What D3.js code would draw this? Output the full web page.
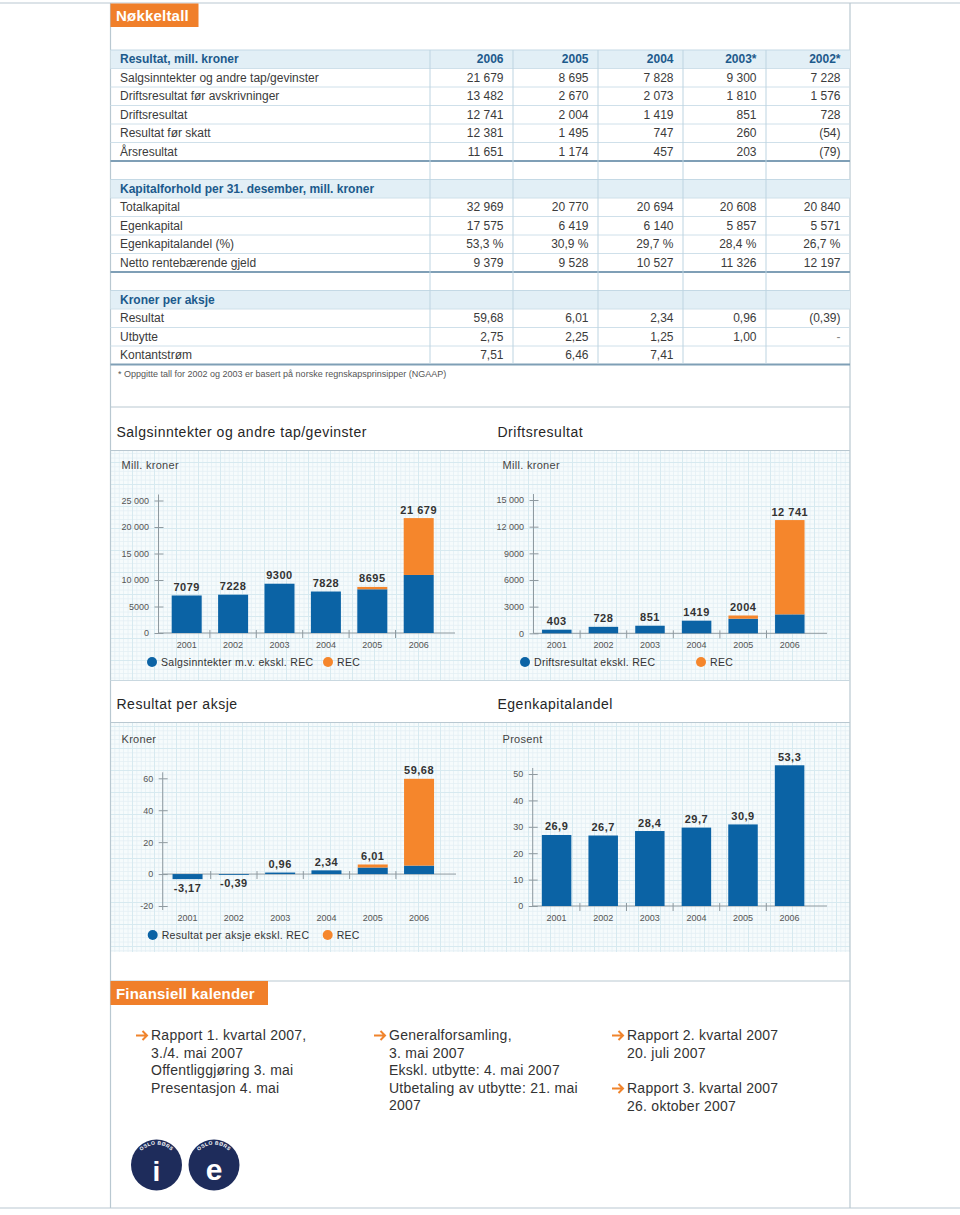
<!DOCTYPE html>
<html><head><meta charset="utf-8">
<script src="https://cdn.jsdelivr.net/npm/d3@7"></script>
<style>
body{margin:0;background:#fff}
svg{display:block}
text{font-family:"Liberation Sans",Arial,Helvetica,sans-serif}
</style>
</head><body>
<svg id="c" width="960" height="1215"></svg>
<script>
// ---------------- DATA ----------------
const tableYears = ["2006","2005","2004","2003*","2002*"];
const resultLabels = ["Salgsinntekter og andre tap/gevinster","Driftsresultat før avskrivninger","Driftsresultat","Resultat før skatt","Årsresultat"];
const resultValues = [
  ["21 679","8 695","7 828","9 300","7 228"],
  ["13 482","2 670","2 073","1 810","1 576"],
  ["12 741","2 004","1 419","851","728"],
  ["12 381","1 495","747","260","(54)"],
  ["11 651","1 174","457","203","(79)"]
];
const capLabels = ["Totalkapital","Egenkapital","Egenkapitalandel (%)","Netto rentebærende gjeld"];
const capValues = [
  ["32 969","20 770","20 694","20 608","20 840"],
  ["17 575","6 419","6 140","5 857","5 571"],
  ["53,3 %","30,9 %","29,7 %","28,4 %","26,7 %"],
  ["9 379","9 528","10 527","11 326","12 197"]
];
const shareLabels = ["Resultat","Utbytte","Kontantstrøm"];
const shareValues = [
  ["59,68","6,01","2,34","0,96","(0,39)"],
  ["2,75","2,25","1,25","1,00","-"],
  ["7,51","6,46","7,41","",""]
];
const footnote = "* Oppgitte tall for 2002 og 2003 er basert på norske regnskapsprinsipper (NGAAP)";

const years = ["2001","2002","2003","2004","2005","2006"];
const salesTotal = [7079,7228,9300,7828,8695,21679];
const salesExRec = [7079,7228,9300,7828,8250,10950];
const salesTicks = [0,5000,10000,15000,20000,25000];
const opTotal = [403,728,851,1419,2004,12741];
const opExRec = [403,728,851,1419,1640,2130];
const opTicks = [0,3000,6000,9000,12000,15000];
const epsTotal = [-3.17,-0.39,0.96,2.34,6.01,59.68];
const epsExRec = [-3.17,-0.39,0.96,2.34,4.1,5.3];
const epsTicks = [-20,0,20,40,60];
const equityShare = [26.9,26.7,28.4,29.7,30.9,53.3];
const equityTicks = [0,10,20,30,40,50];

const calCol1 = ["Rapport 1. kvartal 2007,","3./4. mai 2007","Offentliggjøring 3. mai","Presentasjon 4. mai"];
const calCol2 = ["Generalforsamling,","3. mai 2007","Ekskl. utbytte: 4. mai 2007","Utbetaling av utbytte: 21. mai","2007"];
const calCol3a = ["Rapport 2. kvartal 2007","20. juli 2007"];
const calCol3b = ["Rapport 3. kvartal 2007","26. oktober 2007"];

// ---------------- STYLE ----------------
const BLUE = "#0b63a5", ORANGE = "#f5862c";
const FRAME = "#b9c8d1";
const TXT = "#3b3b3b";
const HEADBLUE = "#1c5a8c";

const svg = d3.select("#c");
const defs = svg.append("defs");

// graph paper pattern
const pMinor = defs.append("pattern").attr("id","gMinor").attr("width",4.4).attr("height",4.4).attr("patternUnits","userSpaceOnUse");
pMinor.append("rect").attr("width",4.4).attr("height",4.4).attr("fill","#f6fbfc");
pMinor.append("path").attr("d","M0 0.4H4.4M0.4 0V4.4").attr("stroke","#e2f0f4").attr("stroke-width",0.8).attr("fill","none");
const pMajor = defs.append("pattern").attr("id","gMajor").attr("width",22).attr("height",22).attr("patternUnits","userSpaceOnUse");
pMajor.append("path").attr("d","M0 0.5H22M0.5 0V22").attr("stroke","#d6e9ef").attr("stroke-width",0.9).attr("fill","none");

function hline(x1,x2,y,c,w){svg.append("line").attr("x1",x1).attr("x2",x2).attr("y1",y).attr("y2",y).attr("stroke",c).attr("stroke-width",w||1);}
function vline(x,y1,y2,c,w){svg.append("line").attr("x1",x).attr("x2",x).attr("y1",y1).attr("y2",y2).attr("stroke",c).attr("stroke-width",w||1);}

// ---------------- GRID BACKGROUNDS ----------------
[[450.5,680],[722.5,952]].forEach(([a,b])=>{
  svg.append("rect").attr("x",110.5).attr("y",a).attr("width",739.5).attr("height",b-a).attr("fill","url(#gMinor)");
  svg.append("rect").attr("x",110.5).attr("y",a).attr("width",739.5).attr("height",b-a).attr("fill","url(#gMajor)");
});

// ---------------- FRAME ----------------
hline(0,960,3,FRAME,1.2);
hline(0,960,1208,FRAME,1.2);
vline(110.5,3,1208,FRAME,1.2);
vline(850,3,1208,FRAME,1.2);
hline(110.5,850,407,FRAME);
hline(110.5,850,450.5,FRAME);
hline(110.5,850,680.5,"#c9d8e0");
hline(110.5,850,722.5,FRAME);
hline(110.5,850,981,FRAME);

// section header boxes
function sectionBox(x,y,w,h,label,fs){
  svg.append("rect").attr("x",x).attr("y",y).attr("width",w).attr("height",h).attr("fill","#f07f2a");
  svg.append("text").attr("x",x+5.5).attr("y",y+h/2+5.5).attr("fill","#fff").attr("font-weight","bold")
    .attr("font-size",fs).attr("letter-spacing",0.2).text(label);
}
sectionBox(110.5,3.5,88,23.5,"Nøkkeltall",15);
sectionBox(110.5,981,157.5,24,"Finansiell kalender",15);

// ---------------- TABLE ----------------
const colEdges = [430,513,598,683,766,850];
const tL = 110.5, tR = 850, rh = 18.5;
const blocks = [
  {title:"Resultat, mill. kroner", header:tableYears, labels:resultLabels, values:resultValues},
  {title:"Kapitalforhold per 31. desember, mill. kroner", header:null, labels:capLabels, values:capValues},
  {title:"Kroner per aksje", header:null, labels:shareLabels, values:shareValues}
];
let ty = 50;
const tableTop = ty;
blocks.forEach((b,bi)=>{
  if(bi>0){ ty += rh; } // empty row
  svg.append("rect").attr("x",tL).attr("y",ty).attr("width",tR-tL).attr("height",rh).attr("fill","#e2eff6");
  hline(tL,tR,ty,"#c4d9e5");
  svg.append("text").attr("x",120).attr("y",ty+rh/2+4.2).attr("fill",HEADBLUE).attr("font-weight","bold")
    .attr("font-size",12).text(b.title);
  if(b.header){
    b.header.forEach((h,i)=>{
      svg.append("text").attr("x",colEdges[i+1]-9.5).attr("y",ty+rh/2+4.2).attr("text-anchor","end")
        .attr("fill",HEADBLUE).attr("font-weight","bold").attr("font-size",12).text(h);
    });
  }
  ty += rh;
  b.labels.forEach((lab,ri)=>{
    hline(tL,tR,ty,"#cfe0ea");
    svg.append("text").attr("x",120).attr("y",ty+rh/2+4.2).attr("fill",TXT).attr("font-size",12).text(lab);
    b.values[ri].forEach((v,i)=>{
      svg.append("text").attr("x",colEdges[i+1]-9.5).attr("y",ty+rh/2+4.2).attr("text-anchor","end")
        .attr("fill",v==="-"?"#888":TXT).attr("font-size",12).text(v);
    });
    ty += rh;
  });
  hline(tL,tR,ty,"#7f9fb6",2);
});
colEdges.slice(0,5).forEach(x=>vline(x,tableTop,ty-1,"#bdd4e1"));
svg.append("text").attr("x",118).attr("y",ty+12.5).attr("fill","#555").attr("font-size",9).text(footnote);

// ---------------- CHARTS ----------------
const fmtInt = v => v>=10000 ? d3.format(",")(v).replace(/,/g," ") : String(v);
const fmtDec2 = v => d3.format(".2f")(v).replace(".",",").replace("\u2212","-");
const fmtDec1 = v => d3.format(".1f")(v).replace(".",",");

function chart(o){
  const g = svg.append("g");
  g.append("text").attr("x",o.titleX).attr("y",o.titleY).attr("fill","#262626").attr("font-size",14)
    .attr("letter-spacing",0.5).text(o.title);
  g.append("text").attr("x",o.titleX+5).attr("y",o.unitY).attr("fill","#444").attr("font-size",11)
    .attr("letter-spacing",0.3).text(o.unit);

  const x = d3.scaleBand().domain(years).range([o.bx0, o.bx0+years.length*o.step])
    .paddingInner(1-o.barW/o.step).paddingOuter((1-o.barW/o.step)/2);
  const y = d3.scaleLinear().domain(o.domain).range(o.yRange);

  const ya = g.append("g").attr("transform",`translate(${o.ax},0)`)
    .call(d3.axisLeft(y).tickValues(o.ticks).tickFormat(o.tickFmt).tickSizeInner(4).tickSizeOuter(0).tickPadding(5.5));
  ya.select(".domain").remove();
  ya.selectAll(".tick line").attr("x1",5).attr("stroke","#8f9aa0");
  ya.selectAll(".tick text").attr("fill","#555").attr("font-size",9)
    .style("font-family",'"Liberation Sans",Arial,sans-serif');
  const yTopTick = y(d3.max(o.ticks)), yBotTick = y(d3.min(o.ticks));
  vline(o.ax, yTopTick-6, yBotTick + (o.domain[0]<0?4:0), "#8f9aa0");

  const y0 = y(0);
  g.append("line").attr("x1",o.ax).attr("x2",o.axEnd).attr("y1",y0).attr("y2",y0).attr("stroke","#8f9aa0");
  years.slice(1).forEach((d,i)=>{
    const sx = o.bx0 + (i+1)*o.step;
    g.append("line").attr("x1",sx).attr("x2",sx).attr("y1",y0-3).attr("y2",y0+5).attr("stroke","#8f9aa0");
  });
  g.selectAll(".xl").data(years).join("text")
    .attr("x",d=>x(d)+x.bandwidth()/2).attr("y",o.yRange[0]+15).attr("text-anchor","middle")
    .attr("fill","#555").attr("font-size",9).text(d=>d);

  const rows = years.map((d,i)=>({year:d, base:o.base[i], total:o.total[i]}));
  g.selectAll(".bb").data(rows).join("rect")
    .attr("x",d=>x(d.year)).attr("width",x.bandwidth())
    .attr("y",d=>Math.min(y(d.base),y0)).attr("height",d=>Math.max(0.8,Math.abs(y(d.base)-y0)))
    .attr("fill",BLUE);
  g.selectAll(".rb").data(rows.filter(d=>d.total>d.base)).join("rect")
    .attr("x",d=>x(d.year)).attr("width",x.bandwidth())
    .attr("y",d=>y(d.total)).attr("height",d=>y(d.base)-y(d.total))
    .attr("fill",ORANGE);
  g.selectAll(".vl").data(rows).join("text")
    .attr("x",d=>x(d.year)+x.bandwidth()/2)
    .attr("y",d=>d.total>=0 ? y(d.total)-4.5 : y(d.total)+12.5)
    .attr("text-anchor","middle").attr("fill","#333").attr("font-weight","bold")
    .attr("font-size",11).attr("letter-spacing",0.5).text(d=>o.labelFmt(d.total));

  (o.legend||[]).forEach(l=>{
    g.append("circle").attr("cx",l.x).attr("cy",o.legendY).attr("r",5).attr("fill",l.c);
    g.append("text").attr("x",l.x+9).attr("y",o.legendY+4).attr("fill","#333").attr("font-size",10.5)
      .attr("letter-spacing",0.3).text(l.t);
  });
}

chart({title:"Salgsinntekter og andre tap/gevinster", titleX:116.5, titleY:436.5, unit:"Mill. kroner", unitY:469,
  bx0:163.5, step:46.4, barW:30, ax:158.5, axEnd:455, domain:[0,25000], yRange:[633,500.5],
  ticks:salesTicks, tickFmt:fmtInt, base:salesExRec, total:salesTotal, labelFmt:fmtInt,
  legendY:662, legend:[{x:152,c:BLUE,t:"Salgsinntekter m.v. ekskl. REC"},{x:328,c:ORANGE,t:"REC"}]});

chart({title:"Driftsresultat", titleX:497.5, titleY:436.5, unit:"Mill. kroner", unitY:469,
  bx0:533.5, step:46.6, barW:29.5, ax:533.5, axEnd:827, domain:[0,15000], yRange:[633.3,500],
  ticks:opTicks, tickFmt:fmtInt, base:opExRec, total:opTotal, labelFmt:fmtInt,
  legendY:662, legend:[{x:525,c:BLUE,t:"Driftsresultat ekskl. REC"},{x:701,c:ORANGE,t:"REC"}]});

chart({title:"Resultat per aksje", titleX:116.5, titleY:709, unit:"Kroner", unitY:743,
  bx0:164.4, step:46.3, barW:30, ax:162.7, axEnd:456, domain:[-20,60], yRange:[906,778.3],
  ticks:epsTicks, tickFmt:d=>String(d), base:epsExRec, total:epsTotal, labelFmt:fmtDec2,
  legendY:935, legend:[{x:152.7,c:BLUE,t:"Resultat per aksje ekskl. REC"},{x:327.7,c:ORANGE,t:"REC"}]});

chart({title:"Egenkapitalandel", titleX:497.5, titleY:709, unit:"Prosent", unitY:743,
  bx0:533.3, step:46.6, barW:29.5, ax:532.7, axEnd:827, domain:[0,50], yRange:[906,774],
  ticks:equityTicks, tickFmt:d=>String(d), base:equityShare, total:equityShare, labelFmt:fmtDec1,
  legendY:0, legend:[]});

// ---------------- CALENDAR ----------------
function calEntry(x,y,lines){
  svg.append("path").attr("d",`M${x-15},${y-4.5}H${x-4}M${x-8.5},${y-9}L${x-4},${y-4.5}L${x-8.5},${y}`)
    .attr("stroke","#f0842c").attr("stroke-width",2).attr("fill","none");
  lines.forEach((t,i)=>{
    svg.append("text").attr("x",x).attr("y",y+i*17.5).attr("fill","#333").attr("font-size",14)
      .attr("letter-spacing",0.25).text(t);
  });
}
calEntry(151,1040,calCol1);
calEntry(389,1040,calCol2);
calEntry(627,1040,calCol3a);
calEntry(627,1093,calCol3b);

// ---------------- LOGOS ----------------
defs.append("path").attr("id","arcTop").attr("d","M-20.5,0 A20.5,20.5 0 0 1 20.5,0");
function logo(cx,letter,fs,dy){
  const g = svg.append("g").attr("transform",`translate(${cx},1165)`);
  g.append("circle").attr("r",25.5).attr("fill","#1e2c5b");
  g.append("text").attr("fill","#fff").attr("font-size",5).attr("font-weight","bold").attr("letter-spacing",0.4)
    .append("textPath").attr("href","#arcTop").attr("startOffset","50%").attr("text-anchor","middle").text("OSLO BØRS");
  g.append("text").attr("y",dy).attr("text-anchor","middle").attr("fill","#fff").attr("font-weight","bold")
    .attr("font-size",fs).text(letter);
}
logo(156.5,"i",28,15.5);
logo(214,"e",30,15);
</script>
</body></html>
